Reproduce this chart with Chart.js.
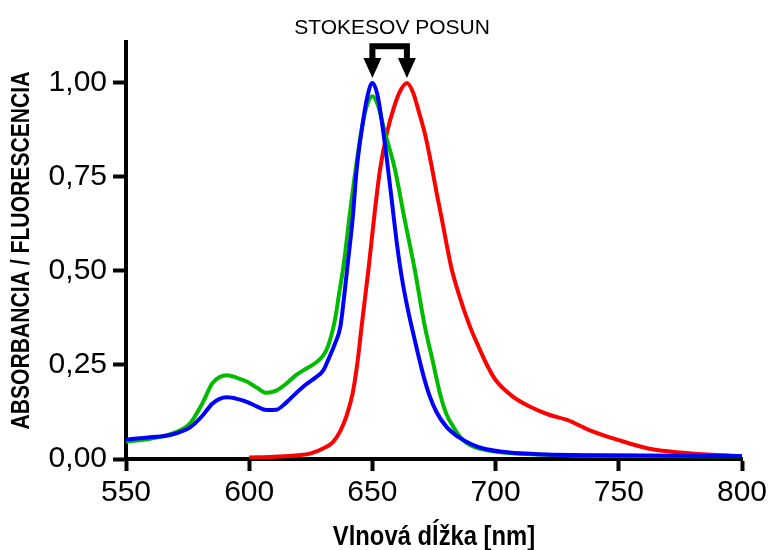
<!DOCTYPE html>
<html>
<head>
<meta charset="utf-8">
<script src="https://cdn.jsdelivr.net/npm/chart.js@4"></script>
<style>
  html, body { margin: 0; padding: 0; background: #fff; }
  #wrap { width: 769px; height: 550px; }
</style>
</head>
<body>
<div id="wrap"><canvas id="chart" width="769" height="550"></canvas></div>
<script>
// spectra (nm -> relative intensity)
const blueNm  = [550, 560, 568, 576, 581, 585, 588, 591, 595, 599, 603, 607, 611, 615, 619, 623, 627, 630, 632, 635, 637, 638.5, 640, 642, 643.6, 646, 648, 650, 652, 654, 656, 658, 660, 662, 664, 666, 668.5, 671, 673, 676, 680, 685, 690, 695, 702, 710, 720, 740, 760, 800];
const blueVal = [0.052, 0.058, 0.064, 0.084, 0.115, 0.147, 0.160, 0.164, 0.160, 0.152, 0.140, 0.130, 0.131, 0.150, 0.175, 0.198, 0.217, 0.235, 0.263, 0.310, 0.352, 0.430, 0.520, 0.640, 0.769, 0.890, 0.965, 1.000, 0.970, 0.890, 0.790, 0.680, 0.570, 0.480, 0.410, 0.350, 0.280, 0.215, 0.172, 0.125, 0.086, 0.058, 0.040, 0.028, 0.020, 0.015, 0.012, 0.010, 0.009, 0.008];

const greenNm  = [550, 560, 568, 576, 581, 585, 588, 591, 595, 599, 603, 607, 611, 615, 619, 623, 627, 630, 632, 634.8, 636.5, 638.4, 641, 643.4, 646, 648, 650, 652, 655, 659.2, 663, 667, 671.3, 674.5, 677.4, 680, 682.8, 685.5, 688.3, 692, 696, 702, 720, 760, 800];
const greenVal = [0.046, 0.054, 0.066, 0.095, 0.148, 0.201, 0.218, 0.223, 0.216, 0.206, 0.190, 0.176, 0.182, 0.200, 0.223, 0.240, 0.256, 0.275, 0.300, 0.370, 0.440, 0.520, 0.660, 0.780, 0.890, 0.945, 0.965, 0.945, 0.870, 0.769, 0.640, 0.510, 0.352, 0.260, 0.175, 0.120, 0.086, 0.060, 0.042, 0.030, 0.024, 0.018, 0.011, 0.008, 0.007];

const redNm  = [600, 610, 620, 625, 630, 634, 637, 639.5, 642, 644, 645.6, 648.5, 651, 653.1, 656, 658.5, 661, 664, 666.5, 669, 671.5, 674, 676, 678, 680, 682, 685, 689.6, 693, 696.5, 700, 707, 714, 722, 729, 738, 750, 762, 775, 788, 800];
const redVal = [0.004, 0.006, 0.010, 0.015, 0.028, 0.045, 0.075, 0.115, 0.175, 0.260, 0.352, 0.510, 0.660, 0.770, 0.870, 0.930, 0.975, 1.000, 0.975, 0.920, 0.860, 0.780, 0.710, 0.644, 0.575, 0.510, 0.440, 0.352, 0.300, 0.250, 0.210, 0.166, 0.139, 0.117, 0.104, 0.077, 0.050, 0.028, 0.017, 0.011, 0.008];

const xTicks = [550, 600, 650, 700, 750, 800];
const yTicks = [0, 0.25, 0.5, 0.75, 1.0];

const xTitle = "Vlnová dĺžka [nm]";
const yTitle = "ABSORBANCIA / FLUORESCENCIA";
const shiftLabel = "STOKESOV POSUN";
const shiftFrom = 650, shiftTo = 664;   // peak positions the bracket points at

function pts(xs, ys) {
  return xs.map((x, i) => ({ x: x, y: ys[i] }));
}

const tickFont = { family: "'Liberation Sans', Arial, sans-serif", size: 30 };

// axis titles (narrow bold) + bracket with two arrows + caption
const annotPlugin = {
  id: "annot",
  afterDraw(chart) {
    const c = chart.ctx;
    const xs = chart.scales.x, ys = chart.scales.y;
    const area = chart.chartArea;
    c.save();
    c.fillStyle = "#000";
    c.textAlign = "center";
    c.textBaseline = "middle";

    c.save();
    c.font = "bold 25px 'Liberation Sans', Arial, sans-serif";
    c.translate(22, (area.top + area.bottom) / 2);
    c.rotate(-Math.PI / 2);
    c.scale(0.845, 1);
    c.fillText(yTitle, 0, 0);
    c.restore();

    c.save();
    c.font = "bold 28px 'Liberation Sans', Arial, sans-serif";
    c.translate((area.left + area.right) / 2, 537);
    c.scale(0.85, 1);
    c.fillText(xTitle, 0, 0);
    c.restore();

    const x1 = xs.getPixelForValue(shiftFrom);
    const x2 = xs.getPixelForValue(shiftTo);
    const top = ys.getPixelForValue(1.098);
    const tip = ys.getPixelForValue(1.013);
    const headH = 20, headW = 9;
    c.strokeStyle = "#000";
    c.lineWidth = 6;
    c.beginPath();
    c.moveTo(x1, tip - headH + 2);
    c.lineTo(x1, top);
    c.lineTo(x2, top);
    c.lineTo(x2, tip - headH + 2);
    c.stroke();
    [x1, x2].forEach(x => {
      c.beginPath();
      c.moveTo(x - headW, tip - headH);
      c.lineTo(x + headW, tip - headH);
      c.lineTo(x, tip);
      c.closePath();
      c.fill();
    });
    c.font = "21px 'Liberation Sans', Arial, sans-serif";
    c.fillText(shiftLabel, xs.getPixelForValue(658), 28);
    c.restore();
  }
};

new Chart(document.getElementById("chart"), {
  type: "line",
  data: {
    datasets: [
      { data: pts(blueNm, blueVal), borderColor: "#0000ff" },
      { data: pts(greenNm, greenVal), borderColor: "#00bb00" },
      { data: pts(redNm, redVal), borderColor: "#ff0000" }
    ]
  },
  options: {
    responsive: false,
    animation: false,
    layout: { padding: { top: 42, right: 27, left: 0, bottom: 0 } },
    elements: {
      point: { radius: 0 },
      line: { borderWidth: 4, cubicInterpolationMode: "monotone", fill: false }
    },
    plugins: { legend: { display: false }, tooltip: { enabled: false } },
    scales: {
      x: {
        type: "linear",
        min: 550, max: 800,
        afterFit: s => { s.height = 91; s.paddingLeft = 0; s.paddingRight = 0; },
        afterBuildTicks: s => { s.ticks = xTicks.map(v => ({ value: v })); },
        ticks: { font: tickFont, color: "#000", padding: 4 },
        grid: { drawOnChartArea: false, drawTicks: true, tickLength: 12, tickWidth: 4, tickColor: "#000" },
        border: { display: true, color: "#000", width: 4 }
      },
      y: {
        min: 0, max: 1.109,
        afterFit: s => { s.width = 126; s.paddingTop = 0; s.paddingBottom = 0; },
        afterBuildTicks: s => { s.ticks = yTicks.map(v => ({ value: v })); },
        ticks: { font: tickFont, color: "#000", padding: 6, callback: v => v.toFixed(2).replace(".", ",") },
        grid: { drawOnChartArea: false, drawTicks: true, tickLength: 13, tickWidth: 4, tickColor: "#000" },
        border: { display: true, color: "#000", width: 4 }
      }
    }
  },
  plugins: [annotPlugin]
});
</script>
</body>
</html>
